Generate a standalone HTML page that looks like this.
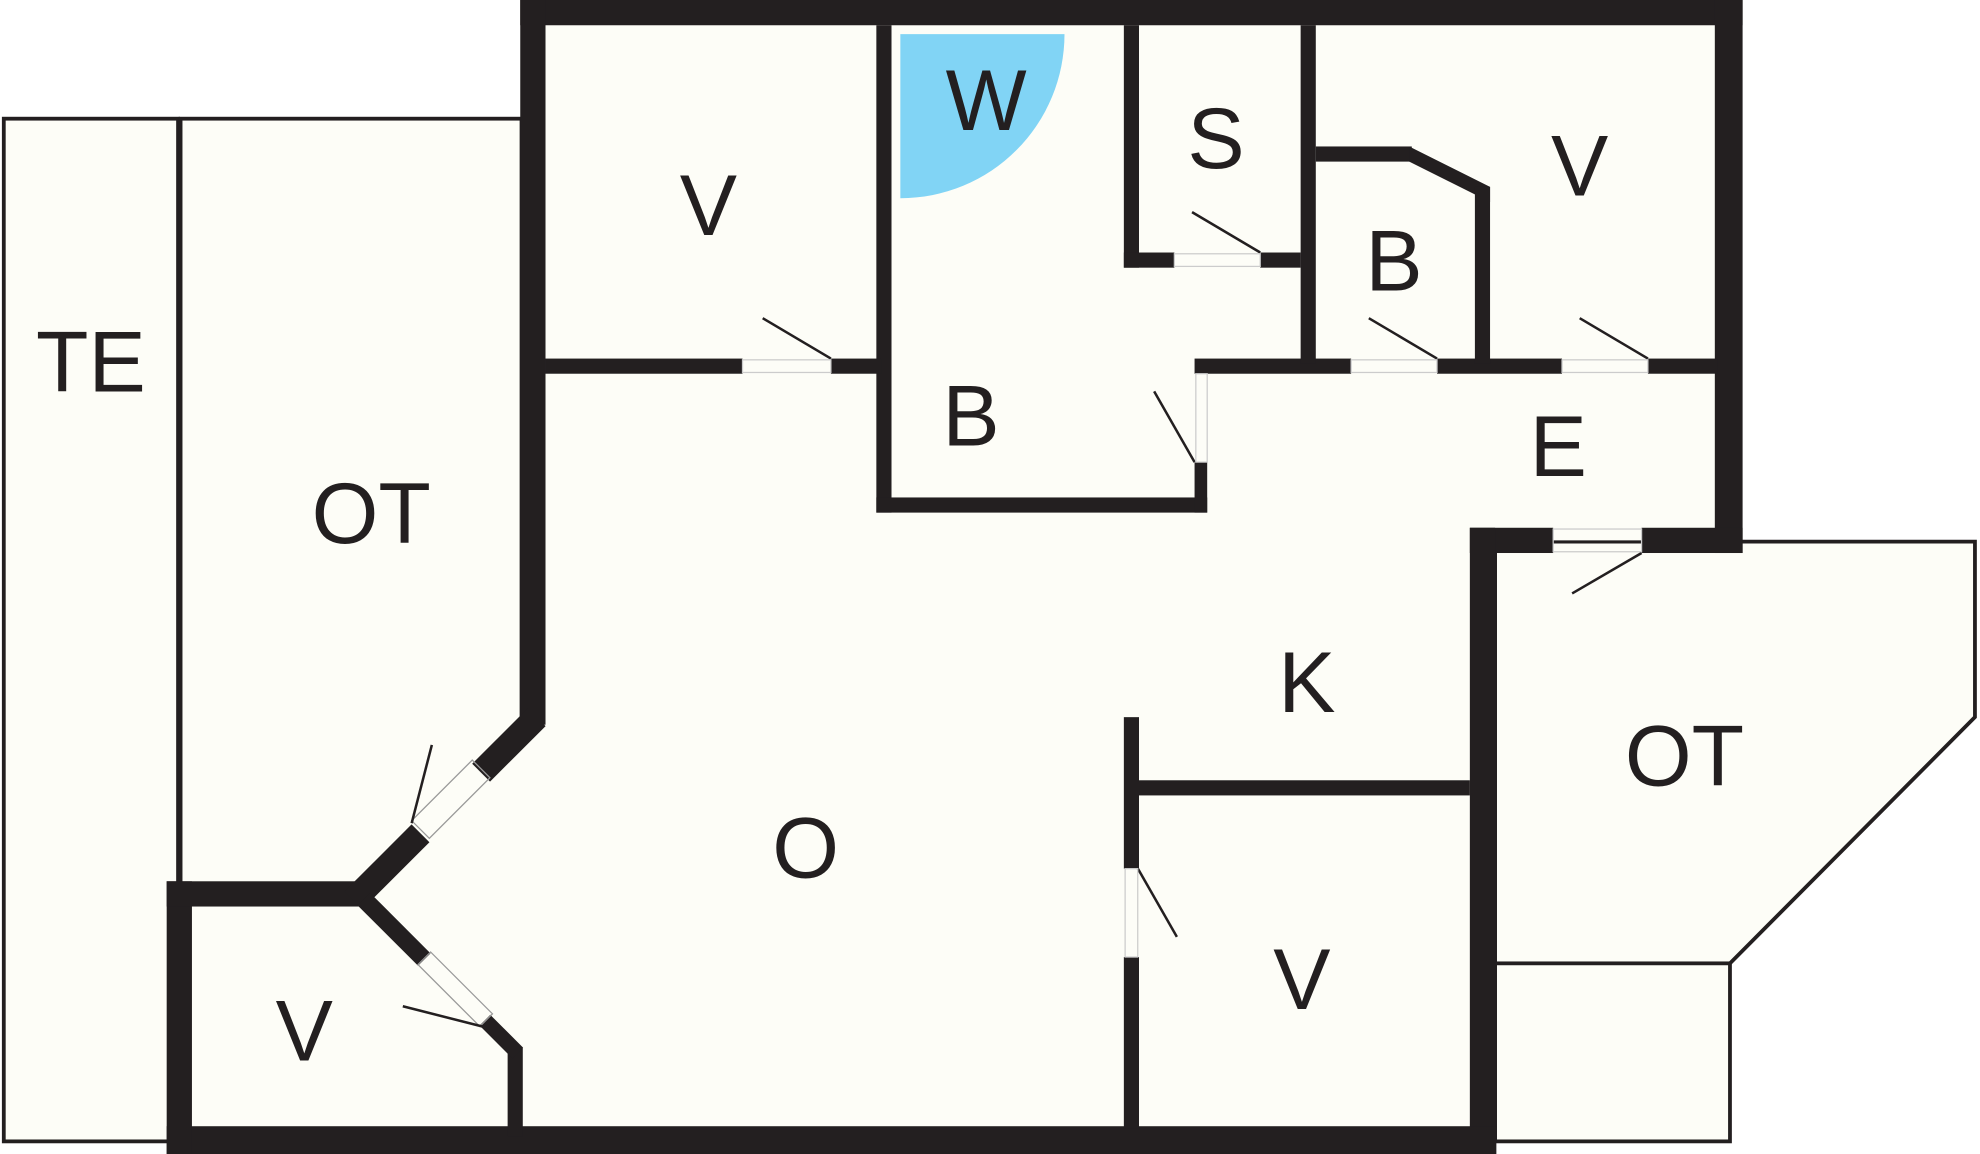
<!DOCTYPE html>
<html><head><meta charset="utf-8"><style>
html,body{margin:0;padding:0;background:#fff;}
svg{display:block;}
text{font-family:"Liberation Sans",sans-serif;font-size:68px;fill:#231f20;text-anchor:middle;}
</style></head><body>
<svg width="1980" height="1154" viewBox="0 0 1568 914" preserveAspectRatio="none" xmlns="http://www.w3.org/2000/svg">
<rect width="1568" height="914" fill="#fff"/>
<g fill="#fdfdf7" stroke="#231f20" stroke-width="3">
<rect x="3" y="94" width="138" height="810"/>
<rect x="143" y="94" width="270" height="610"/>
<polygon points="1184,429 1564,429 1564,568 1370,763 1184,763"/>
<rect x="1184" y="763" width="186" height="141"/>
</g>
<polygon fill="#fdfdf7" points="422,10 1370,10 1370,428 1174,428 1174,903 142,903 142,708 285,708 422,572"/>
<path d="M713,27 L843,27 A130,130 0 0 1 713,157 Z" fill="#81d4f5"/>
<g fill="#231f20">
<rect x="412" y="0" width="968" height="20"/>
<rect x="412" y="0" width="20" height="574"/>
<rect x="1358" y="0" width="22" height="438"/>
<rect x="1164" y="418" width="66" height="20"/>
<rect x="1300" y="418" width="80" height="20"/>
<rect x="1164" y="418" width="20" height="496"/>
<rect x="132" y="892" width="1053" height="22"/>
<rect x="132" y="698" width="20" height="216"/>
<rect x="132" y="698" width="158" height="20"/>
<rect x="402" y="830" width="12" height="70"/>
<rect x="694" y="20" width="12" height="386"/>
<rect x="432" y="284" width="156" height="12"/>
<rect x="658" y="284" width="40" height="12"/>
<rect x="694" y="394" width="262" height="12"/>
<rect x="946" y="366" width="10" height="40"/>
<rect x="946" y="284" width="124" height="12"/>
<rect x="1138" y="284" width="99" height="12"/>
<rect x="1305" y="284" width="55" height="12"/>
<rect x="890" y="20" width="12" height="192"/>
<rect x="890" y="200" width="40" height="12"/>
<rect x="998" y="200" width="32" height="12"/>
<rect x="1030" y="20" width="12" height="268"/>
<rect x="1042" y="116" width="76" height="12"/>
<polygon points="1116,116 1180,148 1180,160 1116,128"/>
<rect x="1168" y="148" width="12" height="140"/>
<rect x="902" y="618" width="262" height="12"/>
<rect x="890" y="568" width="12" height="120"/>
<rect x="890" y="758" width="12" height="136"/>
</g>
<g stroke="#231f20" fill="none" stroke-linecap="butt">
<line x1="425" y1="568" x2="381" y2="612" stroke-width="20"/>
<line x1="333" y1="660" x2="280" y2="713" stroke-width="20"/>
<line x1="288" y1="712" x2="336" y2="760" stroke-width="14"/>
<line x1="384" y1="808" x2="410" y2="834" stroke-width="12"/>
</g>
<g stroke="#999" stroke-width="1" fill="none">
<polygon points="374,602 388,616 340,664 326,650"/>
<polygon points="331,764 341,754 390,803 380,813"/>
</g>
<g stroke="#231f20" stroke-width="2" fill="none">
<line x1="604" y1="252" x2="658" y2="284"/>
<line x1="944" y1="168" x2="998" y2="200"/>
<line x1="1084" y1="252" x2="1138" y2="284"/>
<line x1="1251" y1="252" x2="1305" y2="284"/>
<line x1="914" y1="310" x2="946" y2="366"/>
<line x1="1245" y1="470" x2="1300" y2="438"/>
<line x1="900" y1="686" x2="932" y2="742"/>
<line x1="342" y1="590" x2="326" y2="652"/>
<line x1="319" y1="797" x2="382" y2="813"/>
</g>
<g stroke="#ccc" stroke-width="1" fill="none">
<rect x="588" y="285" width="70" height="10"/>
<rect x="930" y="201" width="68" height="10"/>
<rect x="1070" y="285" width="68" height="10"/>
<rect x="1237" y="285" width="68" height="10"/>
<rect x="947" y="296" width="9" height="70"/>
<rect x="1230" y="419" width="70" height="18"/>
<rect x="891" y="688" width="10" height="70"/>
</g>
<text x="72" y="310">TE</text>
<text x="294" y="430">OT</text>
<text x="561" y="186">V</text>
<text x="781" y="103">W</text>
<text x="963" y="133">S</text>
<text x="1104" y="230">B</text>
<text x="1251" y="155">V</text>
<text x="769" y="353">B</text>
<text x="1234" y="377">E</text>
<text x="1035" y="564">K</text>
<text x="1334" y="622">OT</text>
<text x="638" y="695">O</text>
<text x="1031" y="799">V</text>
<text x="241" y="840">V</text>
</svg>
</body></html>
